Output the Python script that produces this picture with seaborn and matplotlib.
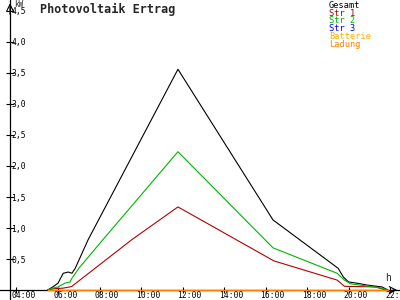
import matplotlib
matplotlib.use("Agg")
import matplotlib.pyplot as plt
import matplotlib.transforms as mtransforms
import seaborn as sns
import pandas as pd

# ---- data (hours of day, kW) ----
gesamt_t = [5.50, 5.75, 6.00, 6.25, 6.50, 6.67, 6.83, 7.45, 11.78, 16.36, 19.50, 19.75, 20.00, 20.41, 20.89, 21.61, 21.90]
gesamt_v = [0.00, 0.05, 0.11, 0.27, 0.29, 0.27, 0.35, 0.81, 3.56, 1.13, 0.35, 0.21, 0.13, 0.11, 0.08, 0.05, 0.00]

str1_t = [5.50, 5.75, 6.24, 6.58, 6.67, 9.55, 11.78, 16.40, 19.45, 19.80, 21.30, 21.80]
str1_v = [0.00, 0.02, 0.03, 0.05, 0.06, 0.81, 1.34, 0.47, 0.16, 0.06, 0.05, 0.00]

str2_t = [5.50, 5.75, 6.00, 6.33, 6.58, 6.67, 7.05, 8.16, 11.78, 16.36, 19.45, 19.80, 20.10, 21.00, 21.60, 21.90]
str2_v = [0.00, 0.03, 0.05, 0.11, 0.13, 0.19, 0.37, 0.81, 2.23, 0.68, 0.27, 0.16, 0.10, 0.06, 0.03, 0.00]

zero_t = [5.50, 21.90]
str3_v = [0.0, 0.0]
batterie_v = [0.0, 0.0]
ladung_v = [0.0, 0.0]

series = ["Gesamt", "Str 1", "Str 2", "Str 3", "Batterie", "Ladung"]
colors = ["#000000", "#b40000", "#00b400", "#0000ff", "#ffb000", "#ff8000"]
yticks = [0.5, 1.0, 1.5, 2.0, 2.5, 3.0, 3.5, 4.0, 4.5]
ytick_labels = ["0,5", "1,0", "1,5", "2,0", "2,5", "3,0", "3,5", "4,0", "4,5"]
xticks = [4, 6, 8, 10, 12, 14, 16, 18, 20, 22]
xtick_labels = ["04:00", "06:00", "08:00", "10:00", "12:00", "14:00", "16:00", "18:00", "20:00", "22:00"]

rows = []
for name, ts, vs in [("Gesamt", gesamt_t, gesamt_v), ("Str 1", str1_t, str1_v),
                     ("Str 2", str2_t, str2_v), ("Str 3", zero_t, str3_v),
                     ("Batterie", zero_t, batterie_v), ("Ladung", zero_t, ladung_v)]:
    for t, v in zip(ts, vs):
        rows.append({"t": t, "kW": v, "series": name})
df = pd.DataFrame(rows)

sns.set_theme(style="white")
plt.rcParams["font.family"] = ["DejaVu Sans Mono", "DejaVu Sans"]

fig = plt.figure(figsize=(4, 3), dpi=100)
ax = fig.add_axes([0, 0, 1, 1])

sns.lineplot(data=df, x="t", y="kW", hue="series", hue_order=series,
             palette=dict(zip(series, colors)), estimator=None, sort=False,
             linewidth=0.8, ax=ax)
for line in ax.lines:
    if line.get_label() in ("Batterie", "Ladung"):
        line.set_linewidth(1.6)
        line.set_zorder(4)
    else:
        line.set_zorder(3)

ax.set_xlim(3.205, 22.48)
ax.set_ylim(-0.161, 4.677)
ax.set_xlabel("")
ax.set_ylabel("")

for s in ("top", "right"):
    ax.spines[s].set_visible(False)
ax.spines["left"].set_position(("data", 3.687))
ax.spines["bottom"].set_position(("data", 0))
for s in ("left", "bottom"):
    ax.spines[s].set_color("black")
    ax.spines[s].set_linewidth(0.9)

ax.set_yticks(yticks)
ax.set_yticklabels(ytick_labels)
ax.set_xticks(xticks)
ax.set_xticklabels(xtick_labels)
ax.tick_params(axis="y", direction="inout", length=6, width=0.8, pad=-4,
               labelsize=5.8, colors="black", left=True)
ax.tick_params(axis="x", direction="inout", length=5, width=0.8, pad=-1.5,
               labelsize=5.8, colors="black", bottom=True)
for lab in ax.get_yticklabels():
    lab.set_ha("left")
off = mtransforms.ScaledTranslation(-5 / 100, 0, fig.dpi_scale_trans)
for lab in ax.get_xticklabels():
    lab.set_ha("left")
    lab.set_transform(lab.get_transform() + off)

# axis arrows
ax.annotate("", xy=(3.687, 4.67), xytext=(3.687, 4.4),
            arrowprops=dict(arrowstyle="->", lw=0.8, color="black"))
ax.annotate("", xy=(22.48, 0), xytext=(22.0, 0),
            arrowprops=dict(arrowstyle="->", lw=0.8, color="black"))
ax.annotate("kW", xy=(3.687, 4.677), xytext=(3, 0), textcoords="offset points",
            ha="left", va="top", fontsize=5.5)
ax.annotate("h", xy=(21.76, 0), xytext=(0, 5), textcoords="offset points",
            ha="left", va="bottom", fontsize=7)

fig.text(40 / 400, 1 - 3 / 300, "Photovoltaik Ertrag", ha="left", va="top",
         fontsize=8.5, fontweight="bold")

handles, labels = ax.get_legend_handles_labels()
leg = ax.legend(handles, labels, loc="upper left", bbox_to_anchor=(329 / 400, 1.0 - 1 / 300),
                frameon=False, handlelength=0, handletextpad=0, labelspacing=-0.15,
                borderpad=0, borderaxespad=0, fontsize=6.2, labelcolor="linecolor")
for h in leg.legend_handles:
    h.set_visible(False)

fig.savefig("out.png", dpi=100, facecolor="white")
